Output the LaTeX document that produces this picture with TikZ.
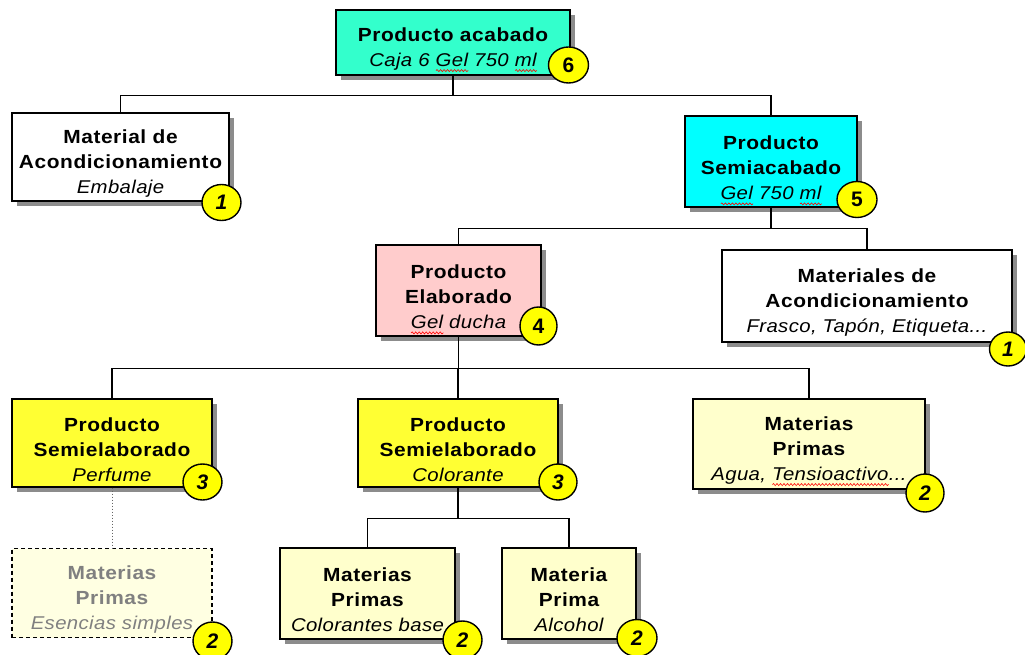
\documentclass[tikz,border=0pt]{standalone}
\usepackage{fontspec}
\setmainfont{Liberation Sans}
\newfontfamily\headfont[FakeStretch=1.1,LetterSpace=3]{Liberation Sans}
\newfontfamily\notefont[FakeStretch=1.1,LetterSpace=2]{Liberation Sans}
\usetikzlibrary{shadows,shapes.geometric,decorations.pathmorphing}

% red wavy underline, as a spell checker marks a word
\newlength\wavelen
\newcommand\spellwave[1]{\settowidth\wavelen{#1}%
  \rlap{\smash{\raisebox{-4pt}{\tikz[baseline=0pt,x=1pt,y=1pt]
    \draw[red, line width=0.6pt, decorate,
      decoration={snake, amplitude=1pt, segment length=3.5pt}]
      (0,0) -- (\wavelen,0);}}}#1}

\newcommand\hd[1]{{\headfont\bfseries\fontsize{19}{25}\selectfont #1}}
\newcommand\nt[1]{{\notefont\itshape\fontsize{18.5}{25}\selectfont #1}}
% extra room above the first line pushes the text block a little lower
\newcommand\lift{\rule{0pt}{27pt}}

\definecolor{acabado}{HTML}{33FFCC}
\definecolor{semiacabado}{HTML}{00FFFF}
\definecolor{elaborado}{HTML}{FFCCCC}
\definecolor{semielab}{HTML}{FFFF33}
\definecolor{primas}{HTML}{FFFFCC}
\definecolor{primasoff}{HTML}{FFFFE2}
\definecolor{badgefill}{HTML}{FFFF00}

\tikzset{
  item/.style={rectangle, draw=black, line width=1.4pt, align=center,
    inner sep=2pt, text=black,
    font=\fontsize{19}{25}\selectfont,
    drop shadow={shadow xshift=5pt, shadow yshift=-5pt, fill=black!45, opacity=1}},
  ghost/.style={rectangle, draw=black, line width=1.4pt, dashed,
    dash pattern=on 4pt off 3pt, align=center, inner sep=2pt, text=black!50,
    fill=primasoff, font=\fontsize{19}{25}\selectfont},
  badge/.style={ellipse, draw=black, line width=1.4pt, fill=badgefill,
    inner sep=0pt, text=black, font=\fontsize{21}{21}\selectfont\bfseries},
  link/.style={draw=black, line width=1.4pt},
  weaklink/.style={draw=black!60, line width=1pt, dotted},
}

\begin{document}
\begin{tikzpicture}[x=1pt,y=-1pt]
\useasboundingbox (0,0) rectangle (1025,655);
\clip (0,0) rectangle (1025,655);
\fill[white] (0,0) rectangle (1025,655);

% boxes
\node[item, fill=acabado, minimum width=234pt, minimum height=65pt] (b1) at (453,42.5)
  {\lift\hd{Producto acabado}\\\nt{Caja 6 \spellwave{Gel} 750 \spellwave{ml}}};
\node[item, fill=white, minimum width=217pt, minimum height=88pt] (b2) at (120.5,157)
  {\lift\hd{Material de}\\\hd{Acondicionamiento}\\\nt{Embalaje}};
\node[item, fill=semiacabado, minimum width=172pt, minimum height=91pt] (b3) at (771,161.5)
  {\lift\hd{Producto}\\\hd{Semiacabado}\\\nt{\spellwave{Gel} 750 \spellwave{ml}}};
\node[item, fill=elaborado, minimum width=165pt, minimum height=91pt] (b4) at (458.5,290.5)
  {\lift\hd{Producto}\\\hd{Elaborado}\\\nt{\spellwave{Gel} ducha}};
\node[item, fill=white, minimum width=290pt, minimum height=92pt] (b5) at (867,296)
  {\lift\hd{Materiales de}\\\hd{Acondicionamiento}\\\nt{Frasco, Tapón, Etiqueta...}};
\node[item, fill=semielab, minimum width=200pt, minimum height=88pt] (b6) at (112,443)
  {\lift\hd{Producto}\\\hd{Semielaborado}\\\nt{Perfume}};
\node[item, fill=semielab, minimum width=200pt, minimum height=88pt] (b7) at (458,443)
  {\lift\hd{Producto}\\\hd{Semielaborado}\\\nt{Colorante}};
\node[item, fill=primas, minimum width=232pt, minimum height=90pt] (b8) at (809,444)
  {\lift\hd{Materias}\\\hd{Primas}\\\nt{Agua, \spellwave{Tensioactivo}...}};
\node[ghost, minimum width=200pt, minimum height=89pt] (b9) at (112,593)
  {\lift\hd{Materias}\\\hd{Primas}\\\nt{Esencias simples}};
\node[item, fill=primas, minimum width=175pt, minimum height=91pt] (b10) at (367.5,593.5)
  {\lift\hd{Materias}\\\hd{Primas}\\\nt{Colorantes base}};
\node[item, fill=primas, minimum width=134pt, minimum height=91pt] (b11) at (569,593.5)
  {\lift\hd{Materia}\\\hd{Prima}\\\nt{Alcohol}};

% connectors
\draw[link] (b1.south) -- ++(0,20) -| (b2.north);
\draw[link] (b1.south) -- ++(0,20) -| (b3.north);
\draw[link] (b3.south) -- ++(0,21) -| (b4.north);
\draw[link] (b3.south) -- ++(0,21) -| (b5.north);
\draw[link] (b4.south) -- ++(0,32) -| (b6.north);
\draw[link] (b4.south) -- ++(0,32) -| (b7.north);
\draw[link] (b4.south) -- ++(0,32) -| (b8.north);
\draw[link] (b7.south) -- ++(0,31) -| (b10.north);
\draw[link] (b7.south) -- ++(0,31) -| (b11.north);
\draw[weaklink] (b6.south) -- (b9.north);

% level badges
\node[badge, minimum width=40pt, minimum height=36pt] (n1) at (568.5,65) {6};
\node[badge, minimum width=39pt, minimum height=36pt] (n2) at (221.5,202.5) {\itshape 1};
\node[badge, minimum width=40pt, minimum height=36pt] (n3) at (857,199.5) {5};
\node[badge, minimum width=37pt, minimum height=38pt] (n4) at (538.5,326) {4};
\node[badge, minimum width=37pt, minimum height=34pt] (n5) at (1008,349) {\itshape 1};
\node[badge, minimum width=39pt, minimum height=36pt] (n6) at (202.5,482) {\itshape 3};
\node[badge, minimum width=38pt, minimum height=36pt] (n7) at (558,482) {\itshape 3};
\node[badge, minimum width=38pt, minimum height=38pt] (n8) at (925,493) {\itshape 2};
\node[badge, minimum width=39pt, minimum height=38pt] (n9) at (212.5,641) {\itshape 2};
\node[badge, minimum width=39pt, minimum height=38pt] (n10) at (462.5,640) {\itshape 2};
\node[badge, minimum width=40pt, minimum height=37pt] (n11) at (637,638) {\itshape 2};
\end{tikzpicture}
\end{document}
